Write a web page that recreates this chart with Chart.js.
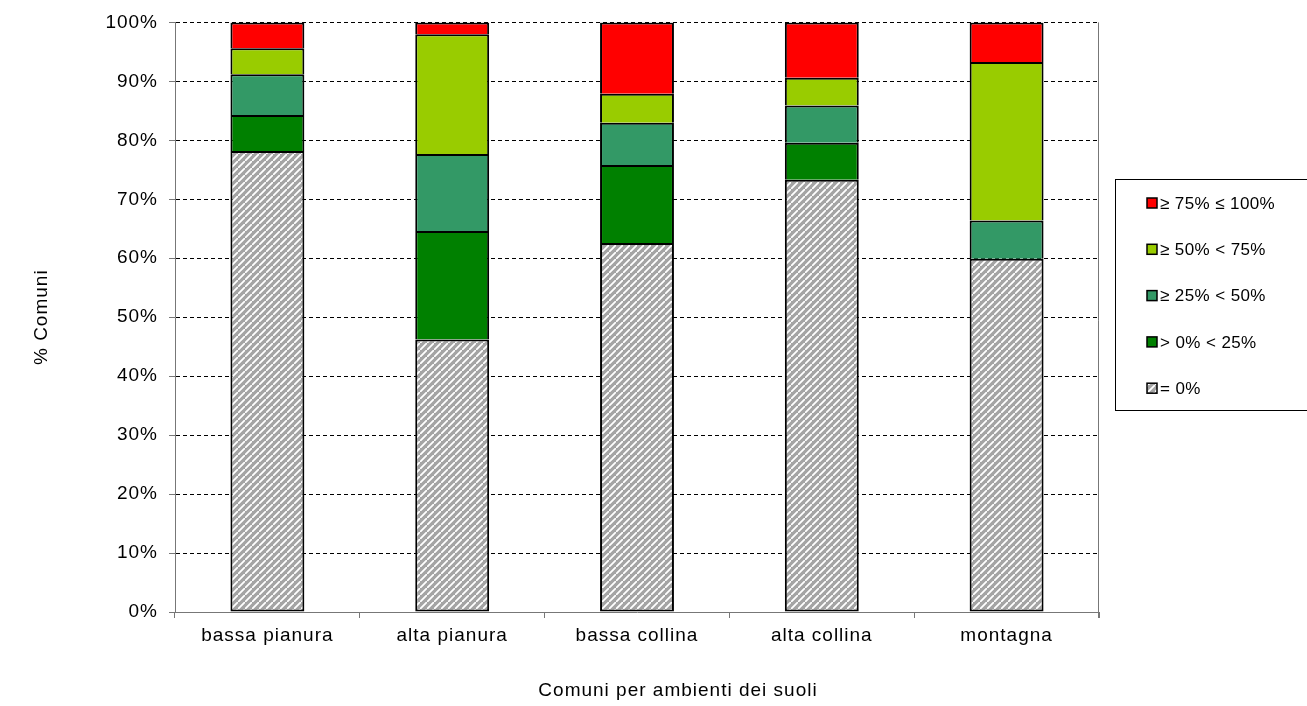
<!DOCTYPE html>
<html>
<head>
<meta charset="utf-8">
<script src="https://cdn.jsdelivr.net/npm/chart.js@4/dist/chart.umd.min.js"></script>
<style>
body{margin:0;background:#fff;}
canvas{display:block;}
</style>
</head>
<body>
<canvas id="chart" width="1307" height="706"></canvas>
<script>
// data (percent of comuni per class)
const categories=['bassa pianura','alta pianura','bassa collina','alta collina','montagna'];
const seriesLabels=['= 0%','> 0% < 25%','≥ 25% < 50%','≥ 50% < 75%','≥ 75% ≤ 100%'];
const zeroPct=[78.2,46.2,62.6,73.3,59.9];
const upTo25=[6.1,18.4,13.2,6.3,0];
const upTo50=[6.9,13.1,7.2,6.3,6.5];
const upTo75=[4.4,20.3,4.9,4.7,26.9];
const upTo100=[4.4,2.0,12.1,9.4,6.7];
const yTicks=[0,10,20,30,40,50,60,70,80,90,100];

const FONT="'Liberation Sans', Arial, sans-serif";
const SPACING='1px';

function hatchPattern(ctx){
    const c=document.createElement('canvas');
    c.width=7;c.height=7;
    const g=c.getContext('2d');
    g.fillStyle='#a4a4a4';
    g.fillRect(0,0,7,7);
    g.strokeStyle='#ffffff';
    g.lineWidth=1.8;
    g.beginPath();
    g.moveTo(-1,8);g.lineTo(8,-1);
    g.moveTo(-4.5,3.5);g.lineTo(3.5,-4.5);
    g.moveTo(3.5,11.5);g.lineTo(11.5,3.5);
    g.stroke();
    return ctx.createPattern(c,'repeat');
}

const canvas=document.getElementById('chart');
const ctx=canvas.getContext('2d');
const hatch=hatchPattern(ctx);

const colors=[hatch,'#008000','#339966','#99cc00','#ff0000'];
const values=[zeroPct,upTo25,upTo50,upTo75,upTo100];

const datasets=values.map((v,i)=>({
    label:seriesLabels[i],
    data:v,
    backgroundColor:colors[i],
    borderColor:'#000',
    borderWidth:2,
    // only the bottom segment keeps its lower edge, so joins stay a single line
    borderSkipped:i===0?false:'start',
    barPercentage:0.4,
    categoryPercentage:1
}));

const extras={
    id:'extras',
    beforeDraw(chart){
        chart.ctx.letterSpacing=SPACING;
    },
    afterDraw(chart){
        const c=chart.ctx;
        const a=chart.chartArea;
        c.save();
        // right edge of plot area
        c.strokeStyle='#777';
        c.lineWidth=1;
        c.beginPath();
        c.moveTo(Math.round(a.right)-0.5,a.top);
        c.lineTo(Math.round(a.right)-0.5,a.bottom+6);
        c.stroke();

        // axis titles
        c.fillStyle='#000';
        c.font='19px '+FONT;
        c.letterSpacing=SPACING;
        c.textAlign='center';
        c.textBaseline='middle';
        c.fillText('Comuni per ambienti dei suoli',678,691);
        c.translate(42,(a.top+a.bottom)/2);
        c.rotate(-Math.PI/2);
        c.fillText('% Comuni',0,0);
        c.restore();

        // legend box
        c.save();
        c.strokeStyle='#000';
        c.lineWidth=1;
        c.strokeRect(1115.5,179.5,200,231);
        c.font='17px '+FONT;
        c.letterSpacing='0.4px';
        c.textBaseline='middle';
        c.textAlign='left';
        const ds=chart.data.datasets;
        for(let k=0;k<ds.length;k++){
            const d=ds[ds.length-1-k];
            const y=203+k*46.3;
            c.fillStyle=d.backgroundColor;
            c.fillRect(1147,y-5,10,10);
            c.strokeStyle='#000';
            c.lineWidth=1.5;
            c.strokeRect(1147,y-5,10,10);
            c.fillStyle='#000';
            c.fillText(d.label,1160,y+1);
        }
        c.restore();
    }
};

new Chart(ctx,{
    type:'bar',
    data:{labels:categories,datasets:datasets},
    options:{
        responsive:false,
        animation:false,
        devicePixelRatio:1,
        layout:{padding:{top:20,right:208,left:0,bottom:0}},
        plugins:{
            legend:{display:false},
            tooltip:{enabled:false}
        },
        scales:{
            x:{
                stacked:true,
                grid:{offset:true,drawOnChartArea:false,tickLength:6,color:'#777'},
                border:{color:'#777',width:1},
                ticks:{color:'#000',font:{size:19,family:FONT},padding:6,maxRotation:0},
                afterFit(s){s.height=94;}
            },
            y:{
                stacked:true,
                min:0,
                max:100,
                afterBuildTicks(s){s.ticks=yTicks.map(v=>({value:v}));},
                ticks:{color:'#000',font:{size:19,family:FONT},padding:11,callback:v=>v+'%'},
                grid:{color:'#000',lineWidth:1,tickLength:6,tickColor:'#777'},
                border:{color:'#777',width:1,dash:[4,3]},
                afterFit(s){s.width=175;}
            }
        }
    },
    plugins:[extras]
});
</script>
</body>
</html>
